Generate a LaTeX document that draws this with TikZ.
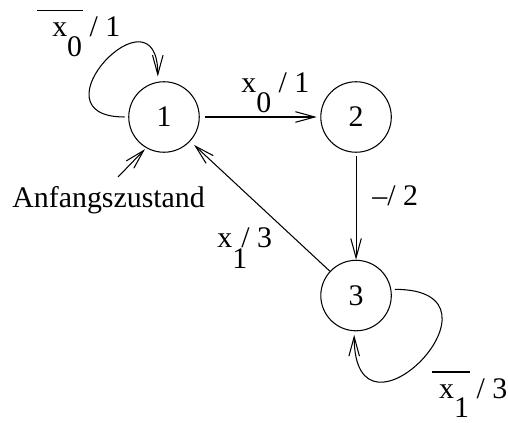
\documentclass[tikz,border=0pt]{standalone}
\usepackage{fontspec}
\setmainfont{Liberation Serif}
\usetikzlibrary{arrows.meta, positioning}
\newcommand{\xsub}[1]{x\raisebox{-0.65em}{#1}}
\newcommand{\xneg}[3]{\rlap{\raisebox{0.87em}{\rule{#2}{0.6pt}}}\hspace{#1}\xsub{#3}}
\tikzset{
  circ/.style={circle, draw, line width=0.6pt, minimum size=1.41cm, inner sep=0pt},
  lbl/.style={anchor=base west, inner sep=0pt},
  arr/.style={-{Straight Barb[length=11pt, width=6pt]}, line width=0.6pt, #1},
  arr/.default=black,
}

\begin{document}
\begin{tikzpicture}[every node/.style={font=\fontsize{17}{20}\selectfont}]
  \useasboundingbox (0,0) rectangle (10.16,-8.46);
  \node[circ] (s1) at (3.28,-2.34) {1};
  \node[circ, right=2.41cm of s1] (s2) {2};
  \node[circ, below=2.14cm of s2] (s3) {3};

  \node[lbl] (init) at (0.24,-4.14) {Anfangszustand};
  \coordinate (start) at (2.36,-3.54);

  \node[lbl] (l11) at (0.74,-0.74) {\xneg{0.5em}{1.53em}{0} / 1};
  \node[lbl] (l12) at (4.82,-1.86) {\xsub{0} / 1};
  \node[lbl] (l23) at (7.44,-4.10) {--/ 2};
  \node[lbl] (l31) at (4.34,-4.94) {x\rlap{\raisebox{-0.72em}{1}}\hspace{0.3em}/ 3};
  \node[lbl] (l33) at (8.64,-7.97) {\xneg{0.23em}{1.27em}{1} / 3};

  \draw[arr, shorten <=3pt, shorten >=2pt] (s1) -- (s2);
  \draw[arr, shorten <=2pt] (s2) -- (s3);
  \draw[arr, shorten >=3pt] (s3) -- (s1);
  \draw[arr, shorten >=1pt] (start) -- (s1.240);
  \draw[arr, shorten <=2pt, shorten >=3pt] (s1.180) .. controls +(-2,0) and +(0,2) .. (s1.100);
  \draw[arr, shorten <=2pt, shorten >=2pt] (s3.10) .. controls +(2.6,0) and +(0,-2.6) .. (s3.267);
\end{tikzpicture}
\end{document}
